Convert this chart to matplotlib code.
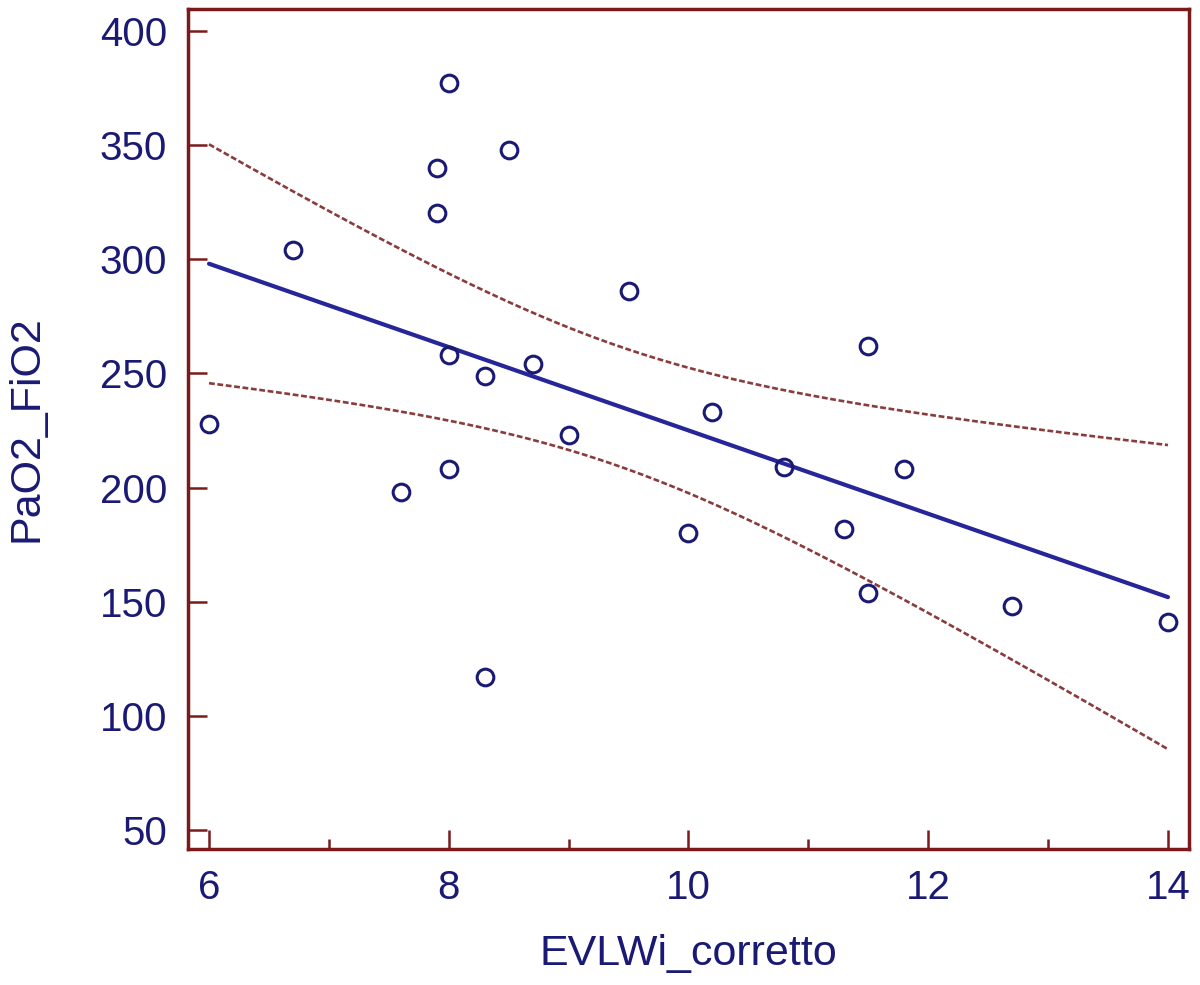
import numpy as np
import matplotlib
matplotlib.use('Agg')
import matplotlib.pyplot as plt

# Data
evlwi = [6.0, 6.7, 7.6, 7.9, 7.9, 8.0, 8.0, 8.0, 8.3, 8.3, 8.5, 8.7,
         9.0, 9.5, 10.0, 10.2, 10.8, 11.3, 11.5, 11.5, 11.8, 12.7, 14.0]
pf_ratio = [228, 304, 198, 340, 320, 377, 258, 208, 117, 249, 348, 254,
            223, 286, 180, 233, 209, 182, 262, 154, 208, 148, 141]

x_ticks = [6, 8, 10, 12, 14]
y_ticks = [50, 100, 150, 200, 250, 300, 350, 400]

navy = '#1a1a74'
spine_red = '#7a1a1a'
band_red = '#8a3b3b'

x = np.array(evlwi, dtype=float)
y = np.array(pf_ratio, dtype=float)

# Least squares fit and 95% confidence band of the mean
slope, intercept = np.polyfit(x, y, 1)
n = len(x)
resid = y - (slope * x + intercept)
s = np.sqrt(np.sum(resid ** 2) / (n - 2))
t_crit = 2.080  # t(0.975, df=21)
xs = np.linspace(x.min(), x.max(), 200)
ys = slope * xs + intercept
se = s * np.sqrt(1 / n + (xs - x.mean()) ** 2 / np.sum((x - x.mean()) ** 2))

plt.rcParams['font.family'] = ['Liberation Sans', 'DejaVu Sans']

fig = plt.figure(figsize=(12, 9.85), dpi=100)
ax = fig.add_axes([0.1567, 0.138, 0.8341, 0.853])

ax.plot(xs, ys + t_crit * se, color=band_red, lw=1.9, ls=(0, (2.2, 1.0)))
ax.plot(xs, ys - t_crit * se, color=band_red, lw=1.9, ls=(0, (2.2, 1.0)))
ax.plot(xs, ys, color='#26269a', lw=3.0, solid_capstyle='round')
ax.plot(x, y, 'o', mfc='none', mec=navy, ms=12, mew=2.2)

ax.set_xlim(5.825, 14.175)
ax.set_ylim(41.7, 409.6)
ax.set_xticks(x_ticks)
ax.set_xticks([7, 9, 11, 13], minor=True)
ax.set_yticks(y_ticks)

for side in ax.spines.values():
    side.set_color(spine_red)
    side.set_linewidth(2.5)

ax.tick_params(axis='both', which='major', direction='in', length=14, width=1.8,
               color=spine_red, labelcolor=navy, labelsize=29)
ax.tick_params(axis='x', which='major', pad=14)
ax.tick_params(axis='y', which='major', pad=15)
ax.tick_params(axis='x', which='minor', direction='in', length=7, width=1.8, color=spine_red)

ax.set_xlabel('EVLWi_corretto', color=navy, fontsize=31, labelpad=20)
ax.set_ylabel('PaO2_FiO2', color=navy, fontsize=31, labelpad=38)

plt.savefig('out.png', dpi=100)
plt.close()
